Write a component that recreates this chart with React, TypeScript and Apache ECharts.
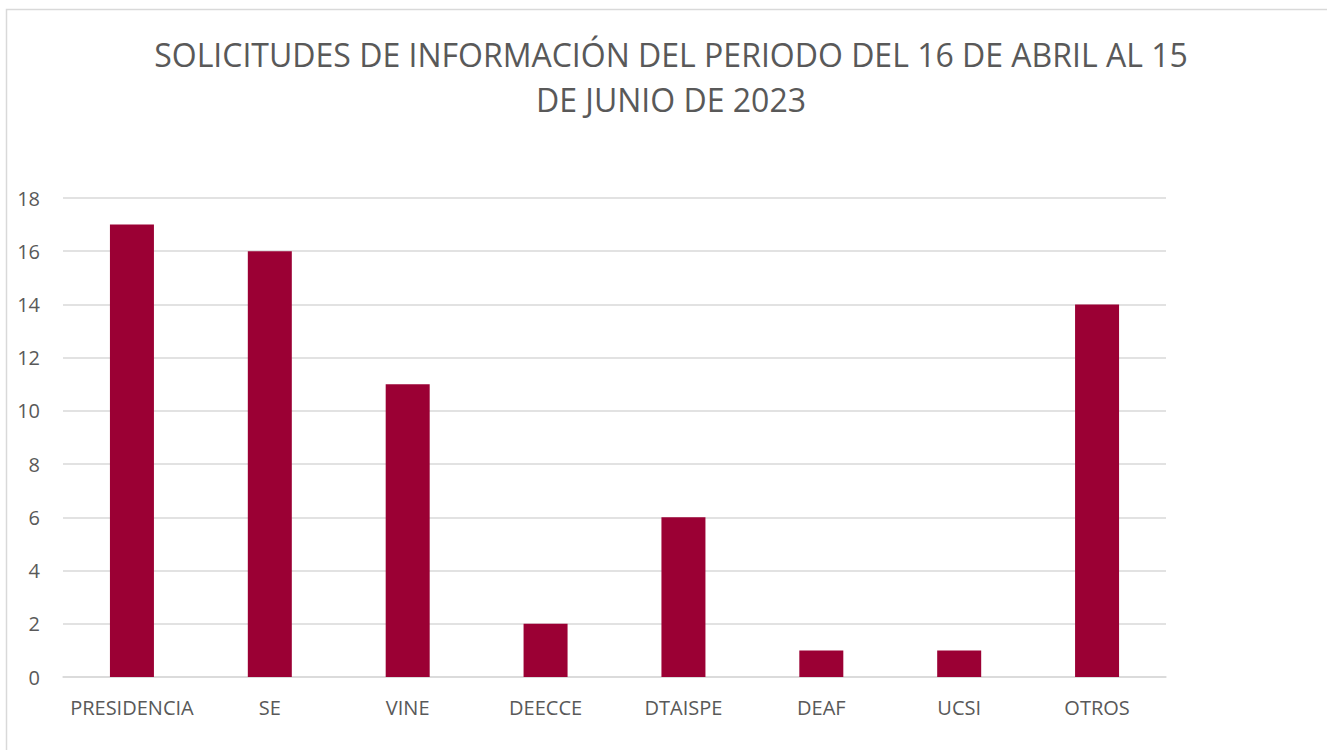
import React, { useEffect, useRef } from "react";
import * as echarts from "echarts";

const titleText = "SOLICITUDES DE INFORMACIÓN DEL PERIODO DEL 16 DE ABRIL AL 15\nDE JUNIO DE 2023";
const categories = ["PRESIDENCIA", "SE", "VINE", "DEECCE", "DTAISPE", "DEAF", "UCSI", "OTROS"];
const values = [17, 16, 11, 2, 6, 1, 1, 14];
const yMin = 0;
const yMax = 18;
const yInterval = 2;

const FONT = "'Open Sans', 'Noto Sans', sans-serif";

export default function App() {
  const ref = useRef<HTMLDivElement>(null);
  useEffect(() => {
    if (!ref.current) return;
    const chart = echarts.init(ref.current, null, { renderer: "svg" });
    chart.setOption({
      animation: false,
      backgroundColor: "#ffffff",
      title: {
        text: titleText,
        left: 671,
        top: 32,
        padding: 0,
        textAlign: "center",
        textStyle: {
          fontFamily: FONT,
          fontSize: 32,
          fontWeight: 400,
          color: "#595959",
          lineHeight: 45,
        },
      },
      graphic: [
        {
          type: "rect",
          shape: { x: 6.5, y: 9.5, width: 1340, height: 760 },
          style: { fill: "none", stroke: "#d9d9d9", lineWidth: 1.5 },
          silent: true,
          z: -1,
        },
      ],
      grid: { left: 63, right: 161, top: 198, bottom: 73 },
      xAxis: {
        type: "category",
        data: categories,
        axisLine: { show: true, lineStyle: { color: "#d9d9d9", width: 1.5 } },
        axisTick: { show: false },
        axisLabel: {
          interval: 0,
          hideOverlap: false,
          fontFamily: FONT,
          fontSize: 20,
          color: "#595959",
          margin: 20,
        },
      },
      yAxis: {
        type: "value",
        min: yMin,
        max: yMax,
        interval: yInterval,
        axisLine: { show: false },
        axisTick: { show: false },
        splitLine: { lineStyle: { color: "#d9d9d9", width: 1.5 } },
        axisLabel: {
          fontFamily: FONT,
          fontSize: 20,
          color: "#595959",
          margin: 23,
        },
      },
      series: [
        {
          type: "bar",
          data: values,
          barWidth: 44,
          itemStyle: { color: "#9b0034" },
        },
      ],
    });
    return () => chart.dispose();
  }, []);
  return (
    <div
      ref={ref}
      style={{ position: "fixed", left: 0, top: 0, width: 1327, height: 750 }}
    />
  );
}
